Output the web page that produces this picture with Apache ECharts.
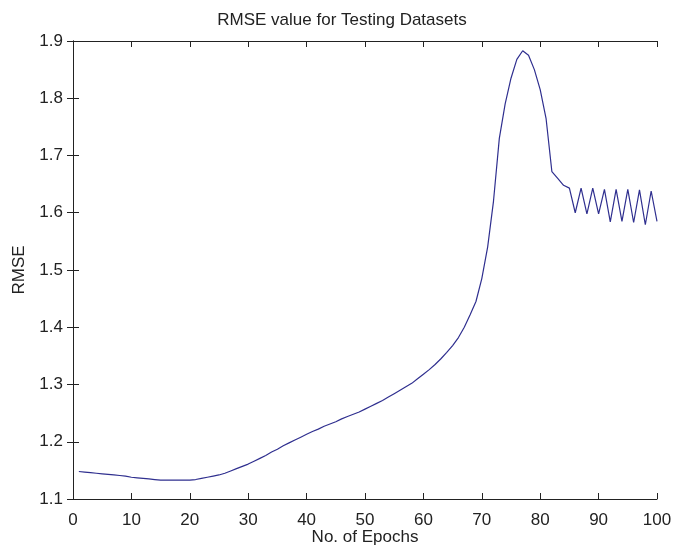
<!DOCTYPE html>
<html>
<head>
<meta charset="utf-8">
<script src="https://cdn.jsdelivr.net/npm/echarts@6/dist/echarts.min.js"></script>
<style>
  html, body { margin: 0; padding: 0; background: #fff; }
  #chart { width: 684px; height: 548px; }
</style>
</head>
<body>
<div id="chart"></div>
<script>
// epochs 1..100
const epochs = Array.from({ length: 100 }, (_, i) => i + 1)

// RMSE, one per epoch
const rmse = [
  1.148, 1.147, 1.146, 1.145, 1.144, 1.143, 1.142, 1.141, 1.140, 1.138,
  1.137, 1.136, 1.135, 1.134, 1.133, 1.133, 1.133, 1.133, 1.133, 1.133,
  1.134, 1.136, 1.138, 1.140, 1.142, 1.145, 1.149, 1.153, 1.157, 1.161,
  1.166, 1.171, 1.176, 1.182, 1.187, 1.193, 1.198, 1.203, 1.208, 1.213,
  1.218, 1.222, 1.227, 1.231, 1.235, 1.240, 1.244, 1.248, 1.252, 1.257,
  1.262, 1.267, 1.272, 1.278, 1.284, 1.290, 1.296, 1.302, 1.310, 1.318,
  1.326, 1.335, 1.345, 1.356, 1.368, 1.382, 1.400, 1.422, 1.445, 1.485,
  1.540, 1.620, 1.730, 1.790, 1.835, 1.868, 1.883, 1.875, 1.850, 1.815,
  1.765, 1.672, 1.660, 1.648, 1.643, 1.600, 1.643, 1.598, 1.643, 1.598,
  1.641, 1.584, 1.641, 1.585, 1.641, 1.583, 1.640, 1.579, 1.638, 1.585
]

const titleText = 'RMSE value for Testing Datasets'
const xName = 'No. of Epochs'
const yName = 'RMSE'

const font = 'Liberation Sans, Arial, sans-serif'
const fontSize = 17
const textColor = '#222'
const axisColor = '#222'

const mychart = echarts.init(document.getElementById('chart'))

function boxAxis(extra) {
  // MATLAB-like box: line + inward ticks on every side
  return Object.assign({
    axisLine: { show: true, lineStyle: { color: axisColor, width: 1 } },
    axisTick: { show: true, inside: true, length: 6, lineStyle: { color: axisColor } },
    splitLine: { show: false }
  }, extra)
}

const option = {
  animation: false,
  backgroundColor: '#fff',
  title: {
    text: titleText,
    left: 'center',
    top: 7,
    textStyle: { fontFamily: font, fontSize: fontSize, fontWeight: 'normal', color: textColor }
  },
  grid: { left: 73, right: 27, top: 41, bottom: 49, outerBoundsMode: 'none' },
  xAxis: [
    boxAxis({
      type: 'value', min: 0, max: 100, interval: 10, position: 'bottom',
      name: xName, nameLocation: 'middle', nameGap: 30, nameMoveOverlap: false,
      nameTextStyle: { fontFamily: font, fontSize: fontSize, color: textColor },
      axisLabel: { fontFamily: font, fontSize: fontSize, color: textColor, margin: 13 }
    }),
    boxAxis({
      type: 'value', min: 0, max: 100, interval: 10, position: 'top',
      axisLabel: { show: false }
    })
  ],
  yAxis: [
    boxAxis({
      type: 'value', min: 1.1, max: 1.9, interval: 0.1, position: 'left',
      name: yName, nameLocation: 'middle', nameGap: 45, nameRotate: 90, nameMoveOverlap: false,
      nameTextStyle: { fontFamily: font, fontSize: fontSize, color: textColor },
      axisLabel: {
        fontFamily: font, fontSize: fontSize, color: textColor, margin: 10,
        formatter: (v) => v.toFixed(1)
      }
    }),
    boxAxis({
      type: 'value', min: 1.1, max: 1.9, interval: 0.1, position: 'right',
      axisLabel: { show: false }
    })
  ],
  series: [
    {
      type: 'line',
      xAxisIndex: 0,
      yAxisIndex: 0,
      data: epochs.map((e, i) => [e, rmse[i]]),
      showSymbol: false,
      lineStyle: { color: '#2f2f8f', width: 1.2 }
    }
  ]
}

mychart.setOption(option)
</script>
</body>
</html>
